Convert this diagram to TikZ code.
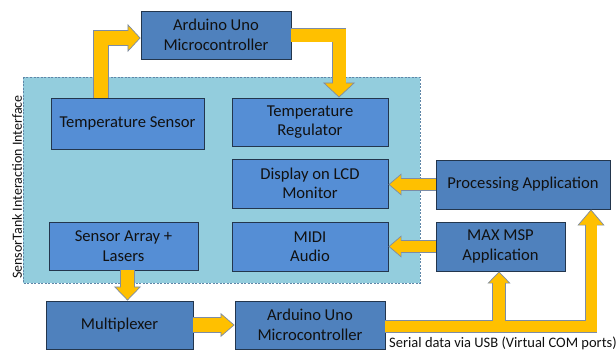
\documentclass[tikz,border=0pt]{standalone}
\usepackage{fontspec}
\setmainfont{Carlito}
\usetikzlibrary{arrows.meta,calc}
\definecolor{darkbox}{HTML}{4F81BD}
\definecolor{lightbox}{HTML}{558ED5}
\definecolor{contfill}{HTML}{93CDDD}
\definecolor{contline}{HTML}{5F86A8}
\definecolor{boxline}{HTML}{23364D}
\definecolor{arrfill}{HTML}{FFC000}
\definecolor{arrline}{HTML}{7C8CA6}
\definecolor{txt}{HTML}{111111}
\newcommand{\barrowout}[4]{% #1 shaft width, #2 head width, #3 head length, #4 path
  \pgfmathsetmacro\bwo{#1+1.2}%
  \draw[draw=arrline, line width=\bwo pt, line join=miter,
        -{Triangle[width=#2pt, length=#3pt, line width'=0.7pt, fill=arrfill]}] #4;
}
\newcommand{\barrowfill}[4]{%
  \pgfmathsetmacro\shl{#3-1.2}%
  \draw[draw=arrfill, line width=#1pt, line join=miter, shorten >=\shl pt] #4;
}
\begin{document}
\begin{tikzpicture}[x=1pt,y=-1pt,
  boxbase/.style={draw=boxline, line width=0.9pt, align=center, inner sep=0pt,
    font=\fontsize{16.6}{19.5}\selectfont, text=txt},
  dbox/.style={boxbase, fill=darkbox},
  lbox/.style={boxbase, fill=lightbox},
  container/.style={draw=contline, fill=contfill, line width=0.8pt, dash pattern=on 2pt off 1.5pt},
  smalltext/.style={font=\fontsize{14.5}{16}\selectfont, text=txt, inner sep=0pt}]
\useasboundingbox[fill=white] (0,0) rectangle (616,351);

\draw[container] (23,77) rectangle (420,283);
\node[smalltext, rotate=90, font=\fontsize{14}{16}\selectfont] (lab) at (17,187) {SensorTank Interaction Interface};

\node[dbox, minimum width=150pt, minimum height=48pt] (ardT) at (216,35) {Arduino Uno\\Microcontroller};
\node[lbox, minimum width=153pt, minimum height=51pt] (tsens) at (127.5,123.5) {Temperature Sensor};
\node[lbox, minimum width=156pt, minimum height=48pt] (treg) at (310,122) {Temperature\\Regulator};
\node[lbox, minimum width=156pt, minimum height=49pt] (disp) at (310,183.5) {Display on LCD\\Monitor};
\node[lbox, minimum width=149pt, minimum height=48pt] (sarr) at (123.5,246) {Sensor Array +\\Lasers};
\node[lbox, minimum width=156pt, minimum height=49pt] (midi) at (310,246.5) {MIDI\\Audio};
\node[dbox, minimum width=147pt, minimum height=48pt] (mux) at (119.5,325) {Multiplexer};
\node[dbox, minimum width=150pt, minimum height=48pt] (ardB) at (310,325) {Arduino Uno\\Microcontroller};
\node[dbox, minimum width=174pt, minimum height=49pt] (proc) at (523,184.5) {Processing Application};
\node[dbox, minimum width=129pt, minimum height=49pt] (max) at (500.5,246.5) {MAX MSP\\Application};

\node[smalltext, anchor=west] (serial) at (389,343) {Serial data via USB (Virtual COM ports)};

\coordinate (a1s) at ($(tsens.north)+(-26.5,0)$);
\coordinate (a1e) at ($(ardT.west)+(0,3)$);
\coordinate (a2e) at ($(treg.north)+(29,0)$);
\coordinate (a5s) at ($(sarr.south)+(4,0)$);
\coordinate (a7s) at ($(ardB.east)+(0,1.5)$);
\coordinate (a7e) at ($(proc.south)+(68,0)$);
\coordinate (bx) at ($(max.south)+(-1.5,0)$);

% outlines
\barrowout{14}{28}{13}{(a1s) |- (a1e)}
\barrowout{13}{32}{15}{(ardT.east) -| (a2e)}
\barrowout{11}{22}{13}{(proc.west) -- (proc.west -| disp.east)}
\barrowout{11}{22}{13}{(max.west) -- (max.west -| midi.east)}
\barrowout{13}{27}{14}{(a5s) -- (a5s |- mux.north)}
\barrowout{14}{24}{14}{(mux.east) -- (ardB.west)}
\barrowout{11}{27}{16}{(a7s) -| (a7e)}
\barrowout{12}{23}{12}{(bx |- a7s) -- (bx)}
% fills
\barrowfill{14}{28}{13}{(a1s) |- (a1e)}
\barrowfill{13}{32}{15}{(ardT.east) -| (a2e)}
\barrowfill{11}{22}{13}{(proc.west) -- (proc.west -| disp.east)}
\barrowfill{11}{22}{13}{(max.west) -- (max.west -| midi.east)}
\barrowfill{13}{27}{14}{(a5s) -- (a5s |- mux.north)}
\barrowfill{14}{24}{14}{(mux.east) -- (ardB.west)}
\barrowfill{11}{27}{16}{(a7s) -| (a7e)}
\barrowfill{12}{23}{12}{(bx |- a7s) -- (bx)}
\end{tikzpicture}
\end{document}
